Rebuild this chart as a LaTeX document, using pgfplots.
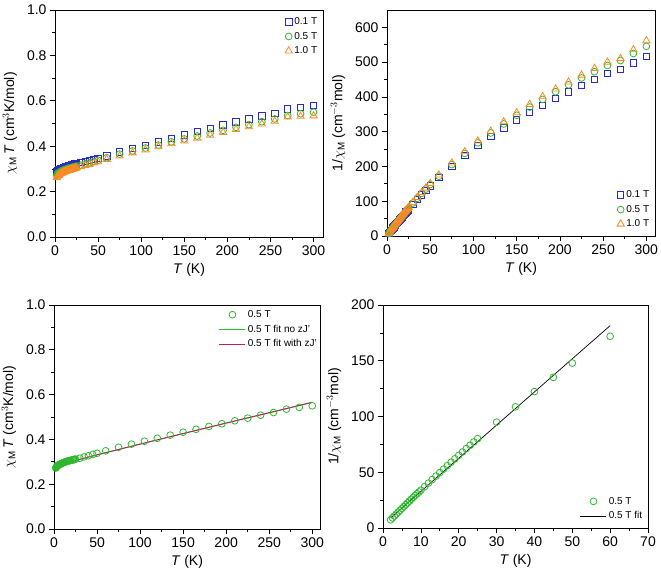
\documentclass[border=0pt]{standalone}
\usepackage{pgfplots}
\usepackage{pgfplotstable}
\pgfplotsset{compat=1.18}
\usepackage{fontspec}
\setmainfont{Liberation Sans}

\definecolor{cblue}{HTML}{2A2AC8}
\definecolor{cgreen}{HTML}{2EB82E}
\definecolor{corange}{HTML}{FF8A26}
\definecolor{cfitg}{HTML}{22C422}
\definecolor{cfitr}{HTML}{C0186A}

% T  chiT  invchi
\pgfplotstableread{
T chiT inv
2 0.288 6.94
3 0.292 10.27
4 0.295 13.56
5 0.297 16.84
6 0.299 20.07
7 0.300 23.33
8 0.302 26.49
9 0.303 29.70
10 0.305 32.79
11 0.306 35.95
12 0.308 38.96
13 0.309 42.07
14 0.311 45.02
15 0.312 48.08
16 0.313 51.12
17 0.314 54.14
18 0.316 56.96
19 0.317 59.94
20 0.318 62.89
21 0.319 65.83
22 0.320 68.75
23 0.322 71.43
24 0.323 74.30
25 0.324 77.16
30 0.328 91.46
35 0.333 105.11
40 0.338 118.34
45 0.342 131.58
50 0.347 144.09
60 0.357 168.07
75 0.374 200.53
90 0.389 231.36
105 0.404 259.90
120 0.419 286.40
135 0.434 311.06
150 0.449 334.08
165 0.464 355.60
180 0.479 375.78
195 0.493 395.54
210 0.507 414.20
225 0.520 432.69
240 0.533 450.28
255 0.545 467.89
270 0.564 478.72
285 0.572 498.25
300 0.580 517.24
}\tabA

\pgfplotstableread{
T chiT inv
2 0.272 7.35
2.5 0.275 9.09
3 0.278 10.79
3.5 0.280 12.50
4 0.282 14.18
4.5 0.2835 15.87
5 0.285 17.54
5.5 0.286 19.23
6 0.287 20.91
6.5 0.288 22.57
7 0.289 24.22
7.5 0.290 25.86
8 0.291 27.49
8.5 0.292 29.11
9 0.293 30.72
9.5 0.294 32.31
10 0.295 33.90
11 0.2965 37.10
12 0.298 40.27
13 0.2993 43.44
14 0.3007 46.56
15 0.302 49.67
16 0.303 52.81
17 0.304 55.92
18 0.305 59.02
19 0.306 62.09
20 0.307 65.15
21 0.308 68.18
22 0.309 71.20
23 0.310 74.19
24 0.311 77.17
25 0.312 80.13
30 0.316 94.94
35 0.322 108.70
40 0.327 122.32
45 0.333 135.14
50 0.338 147.93
60 0.349 171.92
75 0.365 205.48
90 0.379 237.47
105 0.392 267.86
120 0.405 296.30
135 0.419 322.20
150 0.432 347.22
165 0.445 370.79
180 0.458 393.01
195 0.470 414.89
210 0.483 434.78
225 0.495 454.55
240 0.508 472.44
255 0.520 490.38
270 0.535 504.67
285 0.543 524.86
300 0.550 545.45
}\tabB

\pgfplotstableread{
T chiT inv
2 0.262 7.63
3 0.268 11.19
4 0.272 14.71
5 0.275 18.18
6 0.278 21.58
7 0.280 25.00
8 0.282 28.37
9 0.284 31.69
10 0.286 34.97
11 0.2875 38.26
12 0.289 41.52
13 0.290 44.83
14 0.2915 48.03
15 0.293 51.19
16 0.294 54.42
17 0.295 57.63
18 0.2965 60.71
19 0.2975 63.87
20 0.299 66.89
21 0.300 70.00
22 0.301 73.09
23 0.3025 76.03
24 0.3035 79.08
25 0.305 81.97
30 0.310 96.77
35 0.315 111.11
40 0.320 125.00
45 0.326 138.04
50 0.331 151.06
60 0.342 175.44
75 0.357 210.08
90 0.371 242.59
105 0.384 273.44
120 0.398 301.51
135 0.411 328.47
150 0.423 354.61
165 0.436 378.44
180 0.449 400.89
195 0.461 422.99
210 0.474 443.04
225 0.486 462.96
240 0.498 481.93
255 0.510 500.00
270 0.529 510.40
285 0.532 535.71
300 0.534 561.80
}\tabC

\pgfplotstableread{
T chiT
2 0.272
3 0.277
4 0.281
5 0.284
7 0.288
10 0.292
15 0.297
20 0.302
30 0.311
40 0.321
50 0.331
75 0.355
100 0.379
150 0.426
200 0.473
250 0.519
300 0.565
}\fitA

\pgfplotstableread{
T chiT
2 0.271
3 0.276
4 0.280
5 0.283
7 0.288
10 0.292
15 0.297
20 0.302
30 0.311
40 0.321
50 0.331
75 0.355
100 0.379
150 0.426
200 0.473
250 0.519
300 0.566
}\fitB

\pgfplotsset{
  common/.style={
    scale only axis,
    axis line style={line width=0.8pt},
    tick style={line width=0.7pt, black},
    tick align=outside,
    xtick pos=bottom, ytick pos=left,
    major tick length=5pt, minor tick length=3pt,
    minor tick num=1,
    /pgf/number format/assume math mode=true,
    tick label style={font=\fontsize{14}{16}\selectfont},
    label style={font=\fontsize{14}{16}\selectfont},
    legend style={draw=none, fill=none, font=\fontsize{10}{12}\selectfont,
      row sep=2pt, inner sep=1pt},
    legend cell align=left,
    legend image code/.code={\draw[mark repeat=2,mark phase=2,#1] plot coordinates {(0pt,0pt) (13pt,0pt) (26pt,0pt)};},
    xlabel={\textit{T} (K)},
    xlabel style={yshift=-1pt},
    ylabel style={yshift=3pt},
  },
  chistyle/.style={
    ymin=0, ymax=1, ytick={0,0.2,0.4,0.6,0.8,1.0},
    yticklabel style={/pgf/number format/.cd, fixed, fixed zerofill, precision=1},
    ylabel={$\chi_{\mathrm{M}}$\,\textit{T} (cm$^{3}$K/mol)},
  },
  sq/.style={only marks, mark=square, mark size=3.2pt, cblue, line width=0.8pt},
  ci/.style={only marks, mark=o, mark size=3.4pt, cgreen, line width=0.8pt},
  tr/.style={only marks, mark=triangle, mark size=4.2pt, corange, line width=0.8pt},
}

\begin{document}
\begin{tikzpicture}
\useasboundingbox (0pt,0pt) rectangle (661pt,573pt);

% top left
\begin{axis}[common, chistyle,
  at={(55pt,336pt)}, anchor=south west, width=268pt, height=227pt,
  xmin=0, xmax=311, xtick={0,50,...,300},
  legend style={at={(0.99,0.98)}, anchor=north east}]
\addplot[sq] table[x=T,y=chiT]{\tabA};
\addplot[ci] table[x=T,y=chiT]{\tabB};
\addplot[tr] table[x=T,y=chiT]{\tabC};
\legend{0.1 T, 0.5 T, 1.0 T}
\end{axis}

% top right
\begin{axis}[common,
  at={(387pt,337pt)}, anchor=south west, width=268pt, height=226pt,
  xmin=0, xmax=310, xtick={0,50,...,300},
  ymin=0, ymax=650, ytick={0,100,...,600},
  ylabel={1/$\chi_{\mathrm{M}}$ (cm$^{-3}$mol)},
  legend style={at={(0.99,0.02)}, anchor=south east}]
\addplot[sq] table[x=T,y=inv]{\tabA};
\addplot[ci] table[x=T,y=inv]{\tabB};
\addplot[tr] table[x=T,y=inv]{\tabC};
\legend{0.1 T, 0.5 T, 1.0 T}
\end{axis}

% bottom left
\begin{axis}[common, chistyle,
  at={(54pt,44pt)}, anchor=south west, width=266pt, height=224pt,
  xmin=0, xmax=309, xtick={0,50,...,300},
  legend style={at={(1.0,0.99)}, anchor=north east}]
\addplot[ci] table[x=T,y=chiT]{\tabB};
\addplot[cfitg, line width=0.9pt, no marks] table[x=T,y=chiT]{\fitA};
\addplot[cfitr, line width=0.9pt, no marks] table[x=T,y=chiT]{\fitB};
\legend{0.5 T, 0.5 T fit no zJ', 0.5 T fit with zJ'}
\end{axis}

% bottom right
\begin{axis}[common,
  at={(383pt,45pt)}, anchor=south west, width=265pt, height=223pt,
  xmin=0, xmax=70, xtick={0,10,...,70},
  ymin=0, ymax=200, ytick={0,50,...,200},
  ylabel={1/$\chi_{\mathrm{M}}$ (cm$^{-3}$mol)},
  legend style={at={(0.99,0.02)}, anchor=south east}]
\addplot[ci] table[x=T,y=inv]{\tabB};
\addplot[black, line width=0.7pt, no marks] coordinates {(2,9.0) (60,181.5)};
\legend{0.5 T, 0.5 T fit}
\end{axis}
\end{tikzpicture}
\end{document}
